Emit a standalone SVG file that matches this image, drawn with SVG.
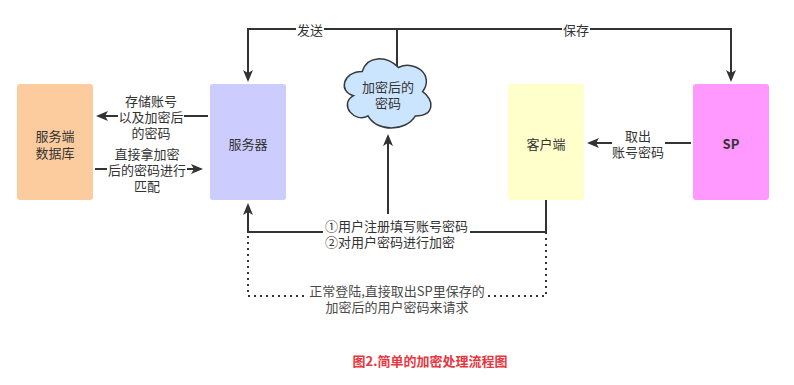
<svg xmlns="http://www.w3.org/2000/svg" width="794" height="385" viewBox="0 0 794 385">
<defs>
<style>
.ln{fill:none;stroke:#333333;stroke-width:2}
.dot{fill:none;stroke:#333333;stroke-width:2;stroke-dasharray:2 4}
.t{font-family:"Noto Sans CJK SC","Microsoft YaHei",sans-serif;font-size:13px;fill:#333333;text-anchor:middle;dominant-baseline:central}
.tl{font-family:"Noto Sans CJK SC","Microsoft YaHei",sans-serif;font-size:13px;fill:#333333;dominant-baseline:central}
.g{fill:#4a4a4a}
.bg{fill:#ffffff}
.cap{font-family:"Noto Sans CJK SC","Microsoft YaHei",sans-serif;font-size:13px;font-weight:bold;fill:#e8363f;text-anchor:middle;dominant-baseline:central}
</style>
<marker id="arr" viewBox="0 0 12 10" markerWidth="12" markerHeight="10" refX="10" refY="5" orient="auto" markerUnits="userSpaceOnUse">
<path d="M0,0 L12,5 L0,10 L3,5 Z" fill="#333333"/>
</marker>
</defs>
<rect width="794" height="385" fill="#ffffff"/>
<g id="connectors">
<path class="ln" d="M397,75 V29 H248 V80" marker-end="url(#arr)"/>
<path class="ln" d="M397,29 H731 V80" marker-end="url(#arr)"/>
<rect class="bg" x="296" y="21" width="28" height="16"/>
<text class="t" x="310" y="29">发送</text>
<rect class="bg" x="562" y="21" width="28" height="16"/>
<text class="t" x="576" y="29">保存</text>

<path class="ln" d="M208,116 H98" marker-end="url(#arr)"/>
<rect class="bg" x="118" y="92" width="66" height="48"/>
<text class="t" x="151" y="100">存储账号</text>
<text class="t" x="151" y="116">以及加密后</text>
<text class="t" x="151" y="132">的密码</text>

<path class="ln" d="M95,169 H201" marker-end="url(#arr)"/>
<rect class="bg" x="107" y="145" width="80" height="48"/>
<text class="t" x="147" y="153">直接拿加密</text>
<text class="t" x="147" y="169">后的密码进行</text>
<text class="t" x="147" y="185">匹配</text>

<path class="ln" d="M691,143 H589" marker-end="url(#arr)"/>
<rect class="bg" x="612" y="127" width="53" height="32"/>
<text class="t" x="638" y="135">取出</text>
<text class="t" x="638" y="151">账号密码</text>

<path class="ln" d="M546,200 V232 H248 V205" marker-end="url(#arr)"/>
<path class="ln" d="M388,232 V136" marker-end="url(#arr)"/>
<rect class="bg" x="323" y="214" width="147" height="36"/>
<text class="tl" x="325" y="225">①用户注册填写账号密码</text>
<text class="tl" x="325" y="241">②对用户密码进行加密</text>

<path class="dot" d="M546,232 V296 H248 V232"/>
<rect class="bg" x="308" y="281" width="179" height="34"/>
<text class="t g" x="397" y="290">正常登陆,直接取出SP里保存的</text>
<text class="t g" x="397" y="306">加密后的用户密码来请求</text>
</g>
<g id="db">
<rect x="17" y="84" width="76" height="116" rx="3" fill="#fdcc9e"/>
<text class="t" x="55" y="135">服务端</text>
<text class="t" x="55" y="152">数据库</text>
</g>
<g id="server">
<rect x="210" y="84" width="76" height="116" rx="3" fill="#ccccff"/>
<text class="t" x="248" y="143">服务器</text>
</g>
<g id="client">
<rect x="508" y="84" width="76" height="116" rx="3" fill="#ffffcc"/>
<text class="t" x="546" y="143">客户端</text>
</g>
<g id="sp">
<rect x="693" y="84" width="76" height="116" rx="3" fill="#ff99ff"/>
<text class="t" x="731" y="143" style="font-weight:bold">SP</text>
</g>
<g id="cloud">
<path d="M362.2,71.5 C342.8,71.5 338,91.7 353.5,95.7 C338,104.6 355.4,123.9 368,115.9 C376.7,132 405.7,132 415.4,115.9 C434.7,115.9 434.7,99.8 422.6,91.7 C434.7,75.6 415.4,59.5 398.4,67.5 C386.4,55.4 367,55.4 362.2,71.5 Z" fill="#cce5ff" stroke="#36393d" stroke-width="1.5"/>
<text class="t" x="388" y="86">加密后的</text>
<text class="t" x="388" y="102">密码</text>
</g>
<g id="caption">
<text class="cap" x="430" y="360">图2.简单的加密处理流程图</text>
</g>
</svg>
